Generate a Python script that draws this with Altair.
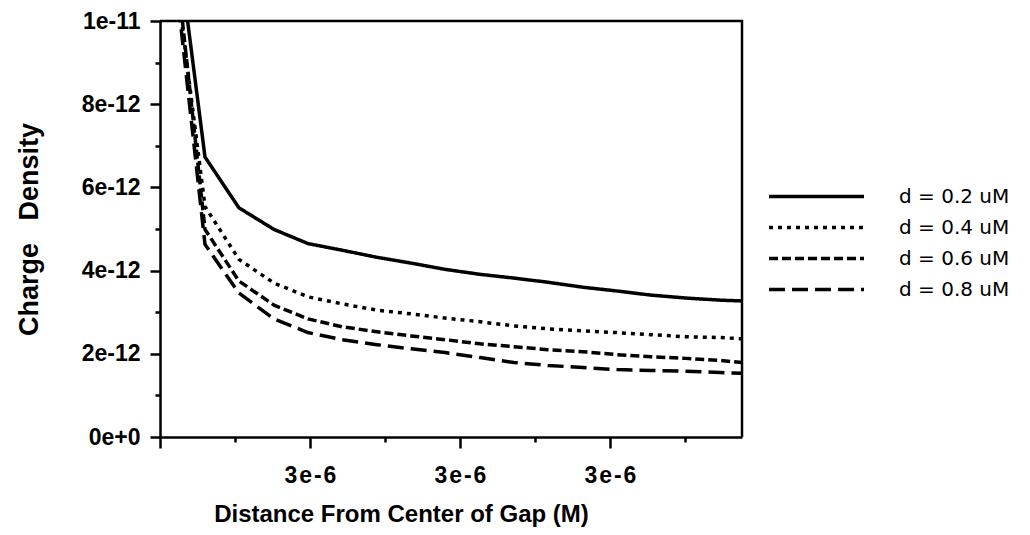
import altair as alt
import pandas as pd

# x positions (m)
x_m = [2.037e-6, 2.150e-6, 2.263e-6, 2.380e-6, 2.493e-6, 2.607e-6, 2.723e-6,
       2.837e-6, 2.950e-6, 3.067e-6, 3.180e-6, 3.293e-6, 3.410e-6, 3.523e-6,
       3.637e-6, 3.753e-6, 3.867e-6, 3.940e-6]

series_labels = ["d = 0.2 uM", "d = 0.4 uM", "d = 0.6 uM", "d = 0.8 uM"]

# charge density values in units of 1e-12
d02 = [13.1, 6.73, 5.51, 4.99, 4.65, 4.49, 4.32, 4.18, 4.03, 3.91, 3.82, 3.72,
       3.60, 3.51, 3.41, 3.34, 3.29, 3.27]
d04 = [12.0, 5.54, 4.27, 3.70, 3.37, 3.20, 3.05, 2.96, 2.86, 2.77, 2.67, 2.60,
       2.55, 2.51, 2.46, 2.41, 2.39, 2.36]
d06 = [12.5, 4.99, 3.75, 3.17, 2.84, 2.65, 2.53, 2.43, 2.34, 2.24, 2.17, 2.10,
       2.05, 1.98, 1.93, 1.89, 1.84, 1.79]
d08 = [12.0, 4.63, 3.46, 2.84, 2.51, 2.34, 2.22, 2.12, 2.03, 1.91, 1.79, 1.72,
       1.67, 1.62, 1.60, 1.58, 1.55, 1.53]

x_domain = [2.0e-6, 3.94e-6]
y_domain = [0, 1e-11]
x_tick_values = [2.0e-6, 2.25e-6, 2.5e-6, 2.75e-6, 3.0e-6, 3.25e-6, 3.5e-6, 3.75e-6]
x_major_ticks = [2.5e-6, 3.0e-6, 3.5e-6]
x_tick_labels = ["3e-6", "3e-6", "3e-6"]
y_tick_values = [0, 1e-12, 2e-12, 3e-12, 4e-12, 5e-12, 6e-12, 7e-12, 8e-12, 9e-12, 1e-11]

dash_patterns = [[1, 0], [4, 5], [9, 4], [16, 7]]

rows = []
for lab, vals in zip(series_labels, [d02, d04, d06, d08]):
    for x, v in zip(x_m, vals):
        rows.append({"x": x, "y": v * 1e-12, "series": lab})
df = pd.DataFrame(rows)

# plot frame (top and right edges) along the scale domain limits
frame_df = pd.DataFrame({
    "x": [x_domain[0], x_domain[1], x_domain[1]],
    "y": [y_domain[1], y_domain[1], y_domain[0]],
    "o": [0, 1, 2],
})

# label expression for x major ticks
keys = [int(round(v * 1e7)) for v in x_major_ticks]
spaced = ["\u200a".join(list(t)) for t in x_tick_labels]
x_label_expr = (
    "indexof(" + str(keys) + ", round(datum.value*1e7)) >= 0 ? "
    + str(spaced).replace('"', "'") + "[indexof(" + str(keys) + ", round(datum.value*1e7))] : ''"
)

FONT = "Liberation Sans"

x_axis = alt.Axis(
    values=x_tick_values,
    labelExpr=x_label_expr,
    tickSize={"condition": {"test": "round(datum.value*1e7) % 5 == 0", "value": 11}, "value": 5},
    tickWidth=2.5,
    tickColor="black",
    domainColor="black",
    domainWidth=2.5,
    grid=False,
    labelFont=FONT,
    labelFontWeight="bold",
    labelFontSize=23,
    labelColor="black",
    labelPadding=16,
    labelFlush=False,
    labelOverlap=False,
    title="Distance From Center of Gap (M)",
    titleFont=FONT,
    titleFontWeight="bold",
    titleFontSize=24,
    titleColor="black",
    titleX=241,
    titleY=84,
    titleBaseline="alphabetic",
    titleAlign="center",
)

y_axis = alt.Axis(
    values=y_tick_values,
    labelExpr="round(datum.value*1e12) % 2 == 0 ? format(datum.value, '.0e') : ''",
    tickSize={"condition": {"test": "round(datum.value*1e12) % 2 == 0", "value": 10}, "value": 5},
    tickWidth=2.5,
    tickColor="black",
    domainColor="black",
    domainWidth=2.5,
    grid=False,
    labelFont=FONT,
    labelFontWeight="bold",
    labelFontSize=23,
    labelColor="black",
    labelPadding=10,
    labelFlush=False,
    labelOverlap=False,
    title="Charge\u00a0\u00a0\u00a0Density",
    titleFont=FONT,
    titleFontWeight="bold",
    titleFontSize=27,
    titleColor="black",
    titleAngle=270,
    titleX=-123,
    titleY=208,
    titleBaseline="alphabetic",
    titleAlign="center",
)

x_scale = alt.Scale(domain=x_domain, nice=False, zero=False)
y_scale = alt.Scale(domain=y_domain, nice=False)

lines = (
    alt.Chart(df)
    .mark_line(clip=True, strokeWidth=3.5, color="black", strokeCap="butt")
    .encode(
        x=alt.X("x:Q", scale=x_scale, axis=x_axis),
        y=alt.Y("y:Q", scale=y_scale, axis=y_axis),
        strokeDash=alt.StrokeDash(
            "series:N",
            scale=alt.Scale(domain=series_labels, range=dash_patterns),
            legend=alt.Legend(
                orient="none",
                legendX=645,
                legendY=164,
                title=None,
                symbolType="M-5,0H5",
                symbolSize=361,
                symbolStrokeWidth=3.5,
                symbolStrokeColor="black",
                symbolFillColor="transparent",
                labelFont="DejaVu Sans",
                labelFontSize=20,
                labelColor="black",
                labelOffset=71,
                rowPadding=9,
            ),
        ),
        detail="series:N",
    )
)

frame = (
    alt.Chart(frame_df)
    .mark_line(color="black", strokeWidth=2.5, strokeJoin="miter")
    .encode(
        x=alt.X("x:Q", scale=x_scale, axis=x_axis),
        y=alt.Y("y:Q", scale=y_scale, axis=y_axis),
        order="o:Q",
    )
)

chart = (
    alt.layer(lines, frame)
    .properties(
        width=582,
        height=416,
        autosize="none",
        padding={"left": 152, "top": 13, "right": 280, "bottom": 90},
    )
    .configure(background="white")
    .configure_view(stroke=None)
)

chart.save("out.html", embed_options={"renderer": "svg", "actions": False})
